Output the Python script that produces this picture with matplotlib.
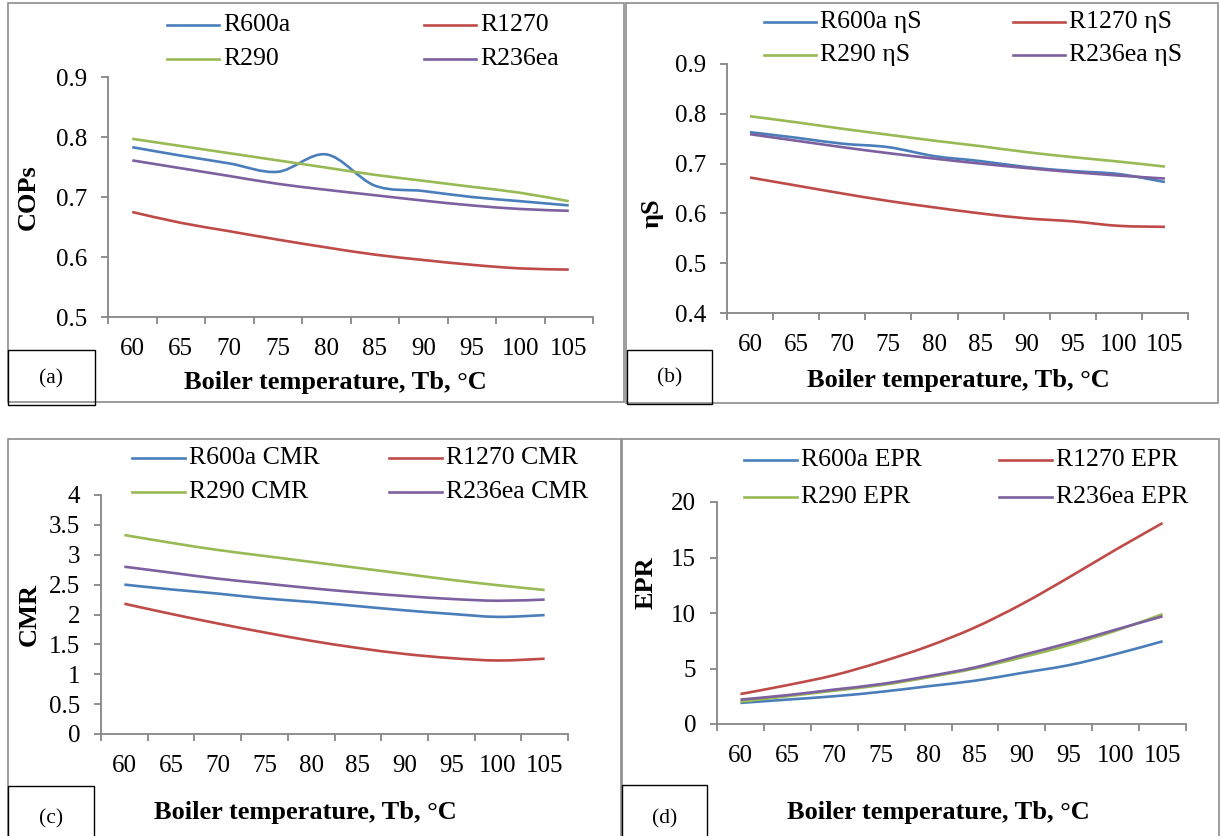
import matplotlib
matplotlib.use("Agg")
import matplotlib.pyplot as plt
import numpy as np
from matplotlib.path import Path
from matplotlib.patches import PathPatch, Rectangle
from matplotlib.lines import Line2D

plt.rcParams["font.family"] = ["Liberation Serif", "DejaVu Serif"]

W, H = 1220, 836

# ---- data ----
temps = [60, 65, 70, 75, 80, 85, 90, 95, 100, 105]

cop_r600a = [0.783, 0.769, 0.756, 0.742, 0.771, 0.719, 0.710, 0.700, 0.693, 0.686]
cop_r1270 = [0.675, 0.657, 0.643, 0.629, 0.616, 0.604, 0.595, 0.587, 0.581, 0.579]
cop_r290 = [0.797, 0.785, 0.773, 0.761, 0.749, 0.737, 0.727, 0.717, 0.707, 0.693]
cop_r236ea = [0.761, 0.748, 0.735, 0.722, 0.712, 0.703, 0.694, 0.686, 0.680, 0.677]

eta_r600a = [0.763, 0.752, 0.740, 0.733, 0.715, 0.705, 0.693, 0.685, 0.679, 0.663]
eta_r1270 = [0.672, 0.656, 0.640, 0.625, 0.612, 0.600, 0.590, 0.584, 0.575, 0.573]
eta_r290 = [0.795, 0.783, 0.770, 0.758, 0.746, 0.735, 0.723, 0.713, 0.704, 0.694]
eta_r236ea = [0.759, 0.746, 0.733, 0.721, 0.710, 0.700, 0.691, 0.683, 0.676, 0.670]

cmr_r600a = [2.50, 2.42, 2.35, 2.27, 2.21, 2.14, 2.07, 2.01, 1.96, 1.99]
cmr_r1270 = [2.18, 2.01, 1.85, 1.70, 1.56, 1.44, 1.34, 1.27, 1.23, 1.26]
cmr_r290 = [3.33, 3.20, 3.08, 2.98, 2.88, 2.78, 2.68, 2.58, 2.49, 2.41]
cmr_r236ea = [2.80, 2.70, 2.60, 2.52, 2.44, 2.37, 2.31, 2.26, 2.23, 2.25]

epr_r600a = [1.9, 2.2, 2.5, 2.9, 3.4, 3.9, 4.6, 5.3, 6.3, 7.45]
epr_r1270 = [2.7, 3.5, 4.4, 5.6, 7.0, 8.7, 10.8, 13.2, 15.7, 18.1]
epr_r290 = [2.0, 2.5, 3.0, 3.5, 4.2, 5.0, 6.0, 7.1, 8.4, 9.9]
epr_r236ea = [2.2, 2.6, 3.1, 3.6, 4.3, 5.1, 6.2, 7.3, 8.5, 9.7]

COLORS = ["#4A7EBB", "#BE4B48", "#98B954", "#7D60A0"]
AXIS_GRAY = "#868686"
TICK_FS = 18
LEG_FS = 18.5
LAB_FS = 19


def fx(x):
    return x / W


def fy(y):
    return 1 - y / H


def smooth_path(xs, ys):
    """Excel-style smoothed line (Catmull-Rom as cubic Bezier)."""
    pts = np.column_stack([xs, ys]).astype(float)
    n = len(pts)
    verts = [pts[0]]
    codes = [Path.MOVETO]
    for i in range(n - 1):
        p0 = pts[max(i - 1, 0)]
        p1 = pts[i]
        p2 = pts[i + 1]
        p3 = pts[min(i + 2, n - 1)]
        verts += [p1 + (p2 - p0) / 6, p2 - (p3 - p1) / 6, p2]
        codes += [Path.CURVE4] * 3
    return Path(verts, codes)


fig = plt.figure(figsize=(W / 100, H / 100), dpi=100)


def panel(box, plot, series, names, yticks, ylabel, ylabel_pos, xlabel_pos,
          xtick_pad, legend, tag_box, tag):
    # outer border of panel
    bx0, by0, bx1, by1 = box
    fig.add_artist(Rectangle((fx(bx0), fy(by1)), fx(bx1 - bx0), (by1 - by0) / H,
                             transform=fig.transFigure, fill=False,
                             edgecolor="#8C8C8C", lw=1.2))
    x0, y0, x1, y1 = plot
    ax = fig.add_axes([fx(x0), fy(y1), fx(x1 - x0), (y1 - y0) / H])
    xs = np.arange(len(temps))
    for vals, c in zip(series, COLORS):
        ax.add_patch(PathPatch(smooth_path(xs, vals), facecolor="none",
                               edgecolor=c, lw=1.9, capstyle="butt"))
    ax.set_xlim(-0.5, len(temps) - 0.5)
    ax.set_ylim(yticks[0], yticks[-1])
    for s in ["top", "right"]:
        ax.spines[s].set_visible(False)
    for s in ["left", "bottom"]:
        ax.spines[s].set_color(AXIS_GRAY)
        ax.spines[s].set_linewidth(1.3)
    ax.set_xticks(np.arange(-0.5, len(temps)), labels=[])
    ax.set_xticks(xs, labels=[str(t) for t in temps], minor=True)
    ax.tick_params(axis="x", which="major", direction="out", length=5,
                   width=1.3, color=AXIS_GRAY)
    ax.tick_params(axis="x", which="minor", length=0, pad=xtick_pad,
                   labelsize=TICK_FS)
    ax.set_yticks(yticks, labels=[f"{v:g}" for v in yticks])
    ax.tick_params(axis="y", direction="out", length=5, width=1.3,
                   color=AXIS_GRAY, pad=10, labelsize=TICK_FS)
    ax.patch.set_alpha(0)

    fig.text(fx(ylabel_pos[0]), fy(ylabel_pos[1]), ylabel, rotation=90,
             ha="center", va="center", fontsize=LAB_FS, fontweight="bold")
    fig.text(fx(xlabel_pos[0]), fy(xlabel_pos[1]), "Boiler temperature, Tb, \u00b0C",
             ha="center", va="center", fontsize=LAB_FS, fontweight="bold")

    # legend, two columns
    (lx1, lx2), (ly1, ly2), seg = legend
    spots = [(lx1, ly1), (lx2, ly1), (lx1, ly2), (lx2, ly2)]
    for (px, py), name, c in zip(spots, names, COLORS):
        fig.add_artist(Line2D([fx(px), fx(px + seg)], [fy(py), fy(py)],
                              transform=fig.transFigure, color=c, lw=1.9))
        fig.text(fx(px + seg + 4), fy(py), name, ha="left", va="center",
                 fontsize=LEG_FS)

    # tag box
    tx0, ty0, tx1, ty1 = tag_box
    fig.add_artist(Rectangle((fx(tx0), fy(ty1)), fx(tx1 - tx0), (ty1 - ty0) / H,
                             transform=fig.transFigure, fill=False,
                             edgecolor="black", lw=1.0, facecolor="white"))
    fig.text(fx((tx0 + tx1) / 2), fy((ty0 + ty1) / 2 + 1), tag, ha="center",
             va="center", fontsize=15.5)
    return ax


names = ["R600a", "R1270", "R290", "R236ea"]

panel((8, 3, 624, 402), (108, 77, 593, 317),
      [cop_r600a, cop_r1270, cop_r290, cop_r236ea], names,
      [0.5, 0.6, 0.7, 0.8, 0.9], "COPs", (28, 197), (335, 383), 15,
      ((167, 424), (25, 59), 52), (8, 350, 95, 405), "(a)")

panel((626, 3, 1218, 403), (727, 64, 1188, 313),
      [eta_r600a, eta_r1270, eta_r290, eta_r236ea],
      [n + " \u03b7S" for n in names],
      [0.4, 0.5, 0.6, 0.7, 0.8, 0.9], "\u03b7S", (652, 213), (958, 380), 15,
      ((764, 1013), (22, 55), 52), (627, 350, 712, 404), "(b)")

panel((8, 439, 621, 850), (101, 495, 568, 734),
      [cmr_r600a, cmr_r1270, cmr_r290, cmr_r236ea],
      [n + " CMR" for n in names],
      [0, 0.5, 1, 1.5, 2, 2.5, 3, 3.5, 4], "CMR", (29, 615), (305, 813), 15,
      ((132, 389), (458, 492), 53), (8, 786, 94, 850), "(c)")

panel((622, 439, 1219, 850), (717, 502, 1186, 724),
      [epr_r600a, epr_r1270, epr_r290, epr_r236ea],
      [n + " EPR" for n in names],
      [0, 5, 10, 15, 20], "EPR", (646, 583), (938, 813), 15,
      ((744, 999), (460, 497), 53), (622, 785, 707, 850), "(d)")

fig.savefig("out.png", dpi=100)
